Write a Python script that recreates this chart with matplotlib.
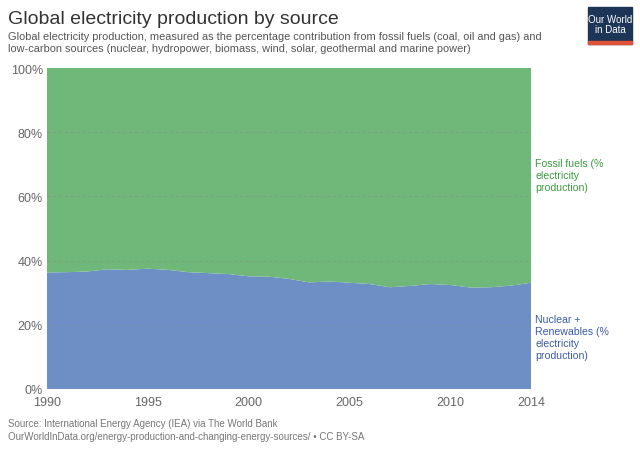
import matplotlib.pyplot as plt
from matplotlib.patches import Rectangle

plt.rcParams['font.family'] = ['Liberation Sans', 'DejaVu Sans']

# Data
tahun = list(range(1990, 2015))
rendah_karbon = [36.3, 36.4, 36.6, 37.3, 37.1, 37.5, 37.1, 36.4, 36.1, 35.8,
                 35.1, 35.0, 34.3, 33.2, 33.5, 33.1, 32.7, 31.7, 32.1, 32.7,
                 32.4, 31.6, 31.7, 32.2, 33.1]
fosil = [100 - v for v in rendah_karbon]

label_fosil = 'Fossil fuels (%\nelectricity\nproduction)'
label_rendah = 'Nuclear +\nRenewables (%\nelectricity\nproduction)'
tick_x = [1990, 1995, 2000, 2005, 2010, 2014]
tick_y = [0, 20, 40, 60, 80, 100]

warna_biru = '#6d8fc5'
warna_hijau = '#6fb87a'

fig = plt.figure(figsize=(6.4, 4.52), dpi=100)
ax = fig.add_axes([47 / 640, 1 - 390 / 452, (531 - 47) / 640, (390 - 69) / 452])

ax.stackplot(tahun, rendah_karbon, fosil, colors=[warna_biru, warna_hijau],
             linewidth=0)
ax.set_xlim(1990, 2014)
ax.set_ylim(0, 100)

# Grid putus-putus di atas area
for y in tick_y[1:-1]:
    ax.axhline(y, color='#888888', linestyle=(0, (3, 3)), linewidth=0.7,
               alpha=0.45, zorder=5)

ax.set_xticks(tick_x)
ax.set_xticklabels([str(t) for t in tick_x])
ax.set_yticks(tick_y)
ax.set_yticklabels([f'{t}%' for t in tick_y])
ax.tick_params(axis='both', length=0, labelsize=9, colors='#666666')
ax.tick_params(axis='x', pad=5)
ax.tick_params(axis='y', pad=3)
for s in ax.spines.values():
    s.set_visible(False)
ax.axhline(0, color='#aaaaaa', linewidth=0.8, zorder=6)

# Label seri di kanan
fig.text(535 / 640, 1 - 159 / 452, label_fosil, color='#3d9a40', fontsize=7.6,
         va='top', ha='left', linespacing=1.25)
fig.text(535 / 640, 1 - 315 / 452, label_rendah, color='#3b5ba6', fontsize=7.6,
         va='top', ha='left', linespacing=1.25)

# Judul dan subjudul
fig.text(8 / 640, 1 - 20 / 452, 'Global electricity production by source',
         fontsize=14, color='#333333', va='center', ha='left')
fig.text(8 / 640, 1 - 32 / 452,
         'Global electricity production, measured as the percentage contribution from fossil fuels (coal, oil and gas) and\n'
         'low-carbon sources (nuclear, hydropower, biomass, wind, solar, geothermal and marine power)',
         fontsize=7.95, color='#555555', va='top', ha='left', linespacing=1.3)

# Sumber
fig.text(8 / 640, 1 - 424 / 452,
         'Source: International Energy Agency (IEA) via The World Bank',
         fontsize=7, color='#777777', va='center', ha='left')
fig.text(8 / 640, 1 - 437 / 452,
         'OurWorldInData.org/energy-production-and-changing-energy-sources/ • CC BY-SA',
         fontsize=7, color='#777777', va='center', ha='left')

# Logo
fig.patches.append(Rectangle((588 / 640, 1 - 45 / 452), 44 / 640, 37 / 452,
                             transform=fig.transFigure, color='#1d3557'))
fig.patches.append(Rectangle((588 / 640, 1 - 45 / 452), 44 / 640, 3 / 452,
                             transform=fig.transFigure, color='#e0533a'))
fig.text(610 / 640, 1 - 25 / 452, 'Our World\nin Data', fontsize=7, color='white',
         ha='center', va='center', linespacing=0.95)

fig.savefig('out.png', dpi=100)
